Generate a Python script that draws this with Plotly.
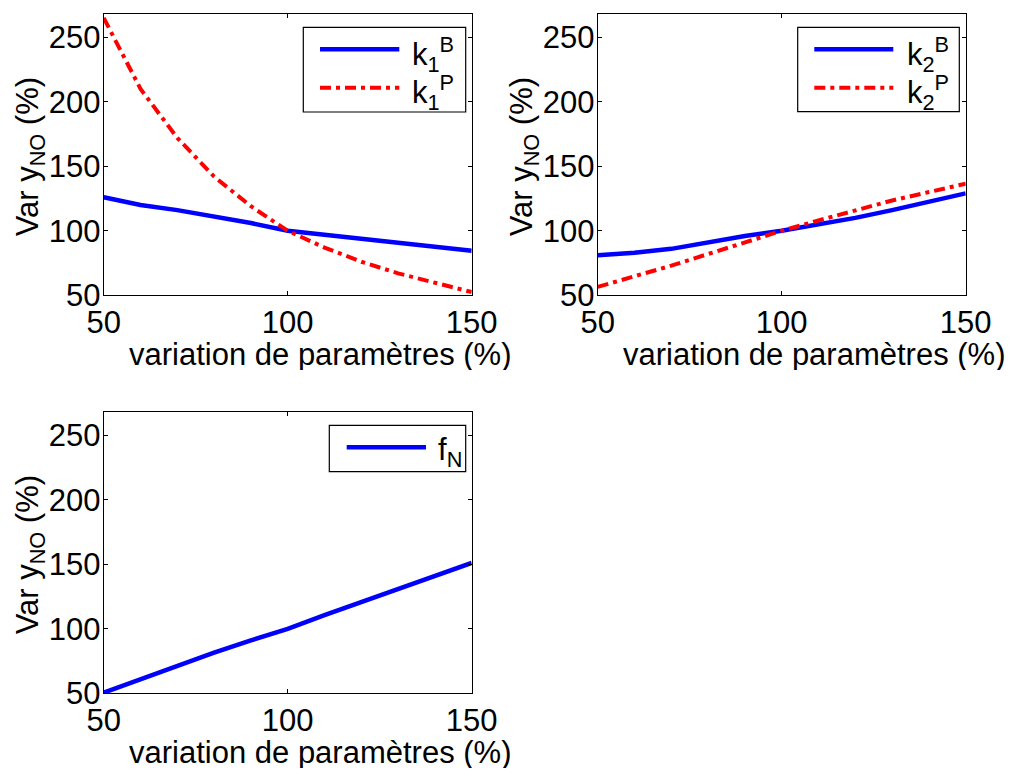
import plotly.graph_objects as go

# ---------------- data ----------------
param = [50, 60, 70, 80, 90, 100, 110, 120, 130, 140, 150]
k1_B = [126, 120, 116, 111, 106, 100, 97, 94, 91, 88, 84.5]
k1_P = [265, 210, 172, 142, 119, 100, 87, 76, 67, 60, 52.5]
k2_B = [81, 83, 86, 91, 96, 100, 105, 110, 116, 122.5, 129]
k2_P = [56.5, 64.5, 73, 82, 91, 100, 108, 116, 123.5, 130, 136.5]
f_N = [50.5, 61, 71, 81.5, 91, 100, 110.5, 120.5, 131, 140.5, 151]

x_ticks = [50, 100, 150]
y_ticks = [50, 100, 150, 200, 250]
x_title = "variation de paramètres (%)"
y_title = "Var y<sub>NO</sub> (%)"
leg1 = ["k<sub>1</sub><sup>B</sup>", "k<sub>1</sub><sup>P</sup>"]
leg2 = ["k<sub>2</sub><sup>B</sup>", "k<sub>2</sub><sup>P</sup>"]
leg3 = ["f<sub>N</sub>"]

# ---------------- layout helpers ----------------
W, H = 1018, 770
FONT = "Liberation Sans, Arial, sans-serif"
FS = 31
BLUE = "#0000ff"
RED = "#ff0000"
DASHDOT = "11px,5px,4px,5px"
BW, RW = 4.5, 4


def fx(px):
    return px / W


def fy(py):
    return 1 - py / H


# axes boxes in pixels: (left, right, top, bottom)
boxes = {
    1: (103.7, 471.7, 14, 295.3),
    2: (597.7, 965.7, 14, 295.3),
    3: (103.7, 471.7, 412, 693.3),
}

fig = go.Figure()

series = [
    (1, k1_B, BLUE, "solid", BW),
    (1, k1_P, RED, DASHDOT, RW),
    (2, k2_B, BLUE, "solid", BW),
    (2, k2_P, RED, DASHDOT, RW),
    (3, f_N, BLUE, "solid", BW),
]
for ax, ys, col, dash, w in series:
    sfx = "" if ax == 1 else str(ax)
    fig.add_trace(go.Scatter(
        x=param, y=ys, mode="lines",
        line=dict(color=col, width=w, dash=dash),
        xaxis="x" + sfx, yaxis="y" + sfx, showlegend=False, hoverinfo="skip",
    ))

layout = dict(
    width=W, height=H,
    margin=dict(l=0, r=0, t=0, b=0, autoexpand=False),
    paper_bgcolor="white", plot_bgcolor="white",
    font=dict(family=FONT, size=FS, color="black"),
    showlegend=False,
)
for ax, (l, r, t, b) in boxes.items():
    sfx = "" if ax == 1 else str(ax)
    common = dict(
        showline=True, linecolor="black", linewidth=1.2, mirror="ticks",
        ticks="inside", ticklen=4, tickcolor="black", tickwidth=1,
        showgrid=False, zeroline=False, automargin=False,
        tickfont=dict(family=FONT, size=FS, color="black"),
    )
    layout["xaxis" + sfx] = dict(
        common, domain=[fx(l), fx(r)], range=[50, 150], tickvals=x_ticks,
        anchor="y" + sfx, ticklabelstandoff=-1,
    )
    layout["yaxis" + sfx] = dict(
        common, domain=[fy(b), fy(t)], range=[50, 268], tickvals=y_ticks,
        anchor="x" + sfx, ticklabelstandoff=-4,
    )
fig.update_layout(**layout)

annotations = []
shapes = []
# axis titles
for ax, (l, r, t, b) in boxes.items():
    cx = (l + r) / 2 + 33
    annotations.append(dict(
        text=x_title, xref="paper", yref="paper", x=fx(cx), y=fy(b + 59),
        xanchor="center", yanchor="middle", showarrow=False, height=32,
        font=dict(family=FONT, size=FS, color="black"),
    ))
    annotations.append(dict(
        text=y_title, xref="paper", yref="paper", x=fx(l - 74), y=fy((t + b) / 2 + 2),
        xanchor="center", yanchor="middle", showarrow=False, textangle=-90,
        font=dict(family=FONT, size=FS, color="black"),
    ))

# legends (box, line samples, labels) placed in pixels
legends = [
    ((303.3, 465.7, 27.3, 112), [(BLUE, "solid", BW, 49.3), (RED, DASHDOT, RW, 87.7)], 320, 399.3, 410, leg1),
    ((797.7, 959.3, 27.3, 111.7), [(BLUE, "solid", BW, 49.3), (RED, DASHDOT, RW, 87.7)], 814.3, 893.3, 905, leg2),
    ((329.3, 465.7, 425.3, 471.7), [(BLUE, "solid", BW, 447.3)], 346.7, 426, 436, leg3),
]
for (bx0, bx1, by0, by1), items, lx0, lx1, tx, labels in legends:
    shapes.append(dict(
        type="rect", xref="paper", yref="paper",
        x0=fx(bx0), x1=fx(bx1), y0=fy(by1), y1=fy(by0),
        line=dict(color="black", width=1.2), fillcolor="white", layer="above",
    ))
    for (col, dash, w, ly), lab in zip(items, labels):
        shapes.append(dict(
            type="line", xref="paper", yref="paper",
            x0=fx(lx0), x1=fx(lx1), y0=fy(ly), y1=fy(ly),
            line=dict(color=col, width=w, dash=dash), layer="above",
        ))
        annotations.append(dict(
            text=lab, xref="paper", yref="paper", x=fx(tx), y=fy(ly + 5),
            xanchor="left", yanchor="middle", showarrow=False,
            font=dict(family=FONT, size=FS, color="black"),
        ))

fig.update_layout(annotations=annotations, shapes=shapes)
fig.write_html("out.html", config={"displayModeBar": False})
